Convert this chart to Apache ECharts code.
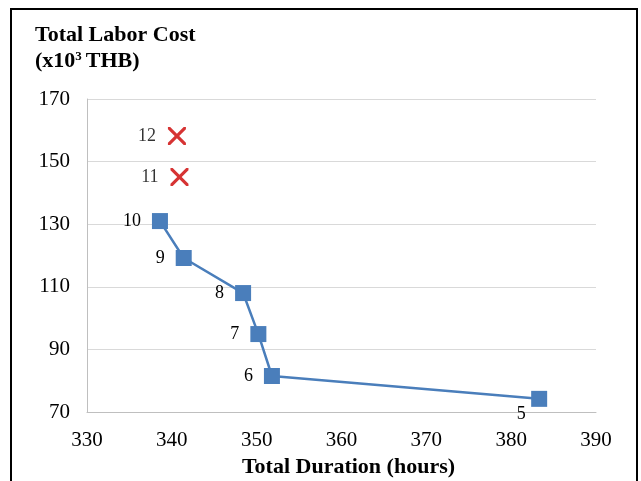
<!DOCTYPE html>
<html><head><meta charset="utf-8">
<style>html,body{margin:0;padding:0;background:#fff}#c{width:641px;height:481px}</style>
<script src="https://cdn.jsdelivr.net/npm/echarts@6/dist/echarts.min.js"></script>
</head><body><div id="c"></div>
<script>
const frontLabels = ['5','6','7','8','9','10'];
const frontDuration = [383.3, 351.8, 350.2, 348.4, 341.4, 338.6];
const frontCost = [74.2, 81.5, 94.9, 108.0, 119.2, 131.0];
const otherLabels = ['11','12'];
const otherDuration = [340.9, 340.6];
const otherCost = [145.1, 158.2];
const xTicks = [330, 340, 350, 360, 370, 380, 390];
const yTicks = [70, 90, 110, 130, 150, 170];

const serif = '"Liberation Serif", "Times New Roman", serif';
const chart = echarts.init(document.getElementById('c'), null, {renderer:'canvas'});
const xPath = 'path://M0,0 L2.5,0 L10,7.5 L17.5,0 L20,0 L20,2.5 L12.5,10 L20,17.5 L20,20 L17.5,20 L10,12.5 L2.5,20 L0,20 L0,17.5 L7.5,10 L0,2.5 Z';

const frontData = frontDuration.map((d,i)=>{
  const item = {value:[d, frontCost[i]], name: frontLabels[i]};
  if (frontLabels[i]==='5') item.label = {position:'bottom', offset:[-18,-13]};
  return item;
});
const otherData = otherDuration.map((d,i)=>({value:[d, otherCost[i]], name: otherLabels[i]}));

chart.setOption({
  animation:false,
  graphic:[
    {type:'rect', shape:{x:11, y:9, width:626, height:490}, style:{fill:'none', stroke:'#000', lineWidth:2}, z:100},
    {type:'text', left:35, top:24, style:{text:'Total Labor Cost', font:'bold 22px '+serif, fill:'#000'}},
    {type:'text', left:35, top:50, style:{rich:{a:{font:'bold 22px '+serif, fill:'#000'}, s:{font:'bold 13px '+serif, fill:'#000', verticalAlign:'top', padding:[0,4,9,0]}}, text:'{a|(x10}{s|3}{a|THB)}'}}
  ],
  grid:{left:87, right:45, top:99, bottom:69, outerBoundsMode:'none'},
  xAxis:{type:'value', min:330, max:390, interval:10,
    name:'Total Duration (hours)', nameLocation:'middle', nameGap:42,
    nameTextStyle:{fontFamily:serif, fontSize:22, fontWeight:'bold', color:'#000', padding:[0,0,0,14]},
    axisLine:{show:true, lineStyle:{color:'#bfbfbf', width:1}}, axisTick:{show:false},
    splitLine:{show:false},
    axisLabel:{fontFamily:serif, fontSize:21, color:'#000', margin:18}},
  yAxis:{type:'value', min:70, max:170, interval:20,
    axisLine:{show:true, lineStyle:{color:'#bfbfbf', width:1}}, axisTick:{show:false},
    splitLine:{show:true, lineStyle:{color:'#d9d9d9', width:1}},
    axisLabel:{fontFamily:serif, fontSize:21, color:'#000', margin:17}},
  series:[
    {type:'line', data:frontData, symbol:'rect', symbolSize:16,
      lineStyle:{color:'#4a7ebb', width:2.5}, itemStyle:{color:'#4a7ebb'},
      label:{show:true, position:'left', distance:11, formatter:p=>p.name, fontFamily:serif, fontSize:18, color:'#000'}},
    {type:'scatter', data:otherData, symbol:xPath, symbolSize:18,
      itemStyle:{color:'#cc0000'},
      label:{show:true, position:'left', distance:12, formatter:p=>p.name, fontFamily:serif, fontSize:18, color:'#000'}}
  ]
});
</script></body></html>
